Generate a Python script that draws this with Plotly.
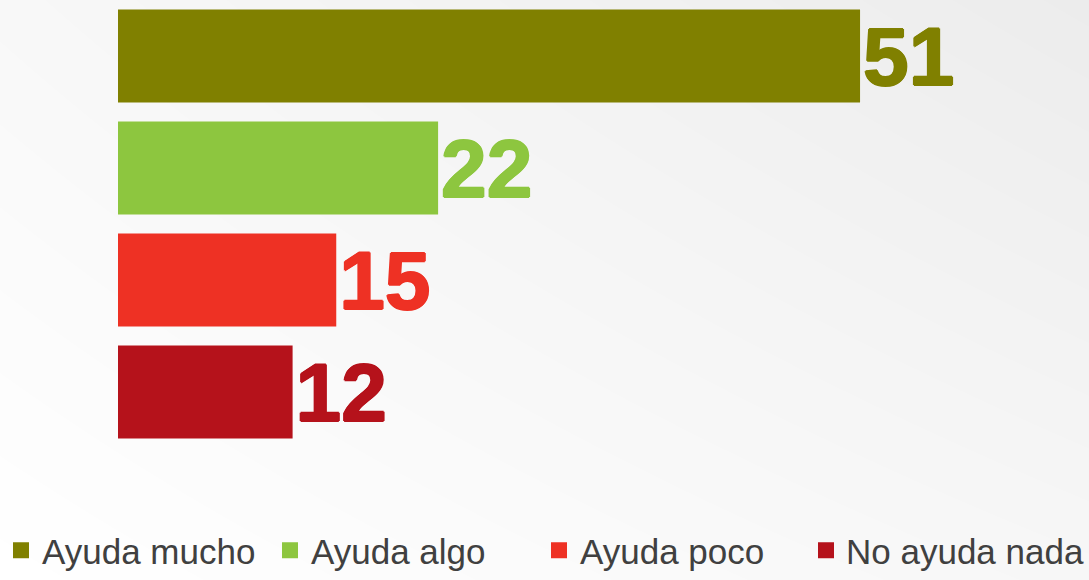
import plotly.graph_objects as go

# Survey answers and their percentages
categories = ["Ayuda mucho", "Ayuda algo", "Ayuda poco", "No ayuda nada"]
values = [51, 22, 15, 12]
colors = ["#808000", "#8dc63f", "#ee3124", "#b5121b"]

W, H = 1089, 580
left_px, right_px, bottom_px = 118, 98, 132

fig = go.Figure()

# Soft diagonal backdrop: white at bottom-left fading to light grey at top-right
fig.add_trace(go.Heatmap(
    x=[0, 1], y=[0, 1],
    z=[[255, 247], [248, 236]],
    zmin=236, zmax=255,
    colorscale=[[0, "#ececec"], [1, "#ffffff"]],
    zsmooth="best", showscale=False, hoverinfo="skip",
    xaxis="x", yaxis="y", showlegend=False,
))

for i, (cat, val, col) in enumerate(zip(categories, values, colors)):
    fig.add_trace(go.Bar(
        x=[val], y=[cat], name=cat, orientation="h",
        marker=dict(color=col, line=dict(width=0)),
        text=[val], textposition="outside", constraintext="none",
        cliponaxis=False, showlegend=False,
        textfont=dict(family="Liberation Sans", size=82, color=col, weight="bold",
                      shadow=f"1px 0 0 {col}, -1px 0 0 {col}, 0 1px 0 {col}, 0 -1px 0 {col}"),
        xaxis="x2", yaxis="y2",
    ))
    # legend key with a larger square swatch; the last key sits in its own
    # legend so its longer label is not cut by the fixed entry width
    fig.add_trace(go.Scatter(
        x=[None], y=[None], name=cat, mode="markers",
        marker=dict(symbol="square", size=16, color=col),
        xaxis="x2", yaxis="y2", hoverinfo="skip",
        legend="legend2" if i == len(categories) - 1 else "legend",
    ))

legend_font = dict(family="Liberation Sans", size=35, color="#404040")
legend_y = -4 / H

fig.update_layout(
    width=W, height=H,
    margin=dict(l=0, r=0, t=0, b=0, autoexpand=False),
    paper_bgcolor="#ffffff",
    plot_bgcolor="rgba(0,0,0,0)",
    barmode="overlay", bargap=0.17,
    xaxis=dict(domain=[0, 1], range=[0, 1], visible=False, fixedrange=True),
    yaxis=dict(domain=[0, 1], range=[0, 1], visible=False, fixedrange=True),
    xaxis2=dict(domain=[left_px / W, 1 - right_px / W], range=[0, 60],
                visible=False, anchor="y2"),
    yaxis2=dict(domain=[bottom_px / H, 1], visible=False, anchor="x2",
                categoryorder="array", categoryarray=categories,
                autorange="reversed"),
    showlegend=True,
    legend=dict(
        orientation="h", xref="container", yref="container",
        x=0, xanchor="left", y=legend_y, yanchor="bottom",
        font=legend_font, bgcolor="rgba(0,0,0,0)", traceorder="normal",
        entrywidth=222, itemwidth=32,
    ),
    legend2=dict(
        orientation="h", xref="container", yref="container",
        x=806 / W, xanchor="left", y=legend_y, yanchor="bottom",
        font=legend_font, bgcolor="rgba(0,0,0,0)",
        itemwidth=30,
    ),
)

fig.write_html("out.html")
